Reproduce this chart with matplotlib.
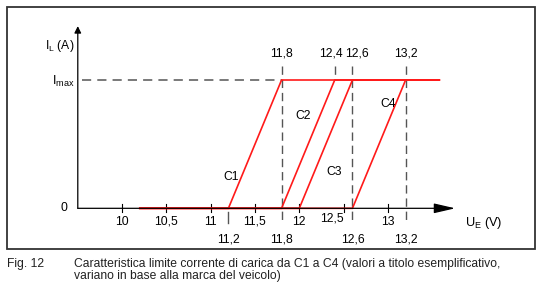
import matplotlib
matplotlib.use("Agg")
import matplotlib.pyplot as plt

plt.rcParams['font.family'] = ['Liberation Sans', 'DejaVu Sans']
plt.rcParams['mathtext.default'] = 'regular'

# data
curves = ['C1', 'C2', 'C3', 'C4']
u_start = [11.2, 11.8, 12.0, 12.6]   # current starts to rise (I = 0)
u_end = [11.8, 12.4, 12.6, 13.2]     # current reaches Imax
u_min, u_max = 10.2, 13.58
ticks = [10, 10.5, 11, 11.5, 12, 12.5, 13]
tick_labels = ['10', '10,5', '11', '11,5', '12', '12,5', '13']
top_marks = [11.8, 12.4, 12.6, 13.2]
top_label_x = [11.8, 12.36, 12.655, 13.2]
bottom_marks = [11.2, 11.8, 12.6, 13.2]
label_pos = [(11.23, 0.244), (12.04, 0.722), (12.39, 0.28), (13.0, 0.813)]

red = '#ff1a1a'
grey = '#555555'
fs = 8.7

fig = plt.figure(figsize=(5.4, 2.98), dpi=100)
ax = fig.add_axes([0, 0, 1, 1])
ax.set_xlim(8.622, 14.717)
ax.set_ylim(-0.699, 1.6235)
ax.axis('off')

# frame
fig.patches.append(plt.Rectangle((7 / 540, 1 - 249 / 298), 528 / 540, 242 / 298,
                                 transform=fig.transFigure, fill=False,
                                 edgecolor='#333333', lw=1.3))

# axes arrows
ax.annotate('', xy=(9.5, 1.42), xytext=(9.5, 0),
            arrowprops=dict(arrowstyle='-|>', color='black', lw=0.9,
                            mutation_scale=10, shrinkA=0, shrinkB=0))
ax.annotate('', xy=(13.76, 0), xytext=(9.5, 0),
            arrowprops=dict(arrowstyle='-|>,head_length=1.3,head_width=0.3', color='black', lw=0.9,
                            mutation_scale=10, shrinkA=0, shrinkB=0))

# ticks on x axis
for t, lab in zip(ticks, tick_labels):
    ax.plot([t, t], [-0.032, 0.032], color='black', lw=0.8)
    if lab == '12,5':
        ax.text(12.37, -0.078, lab, ha='center', va='center', fontsize=fs)
    else:
        ax.text(t, -0.104, lab, ha='center', va='center', fontsize=fs)

# dashed guides
ax.plot([9.55, 11.8], [1, 1], color=grey, lw=1.1, dashes=(6, 4))
for m, lx in zip(top_marks, top_label_x):
    low = 1 if m == 12.4 else -0.122
    ax.plot([m, m], [1.109, low], color=grey, lw=1.0, dashes=(6, 3.5))
    ax.text(lx, 1.203, str(m).replace('.', ','), ha='center', va='center', fontsize=fs)
ax.plot([11.2, 11.2], [-0.026, -0.118], color=grey, lw=1.0)
for m in bottom_marks:
    ax.text(m, -0.242, str(m).replace('.', ','), ha='center', va='center', fontsize=fs)

# characteristic curves
for name, a, b, (lx, ly) in zip(curves, u_start, u_end, label_pos):
    ax.plot([u_min, a, b, u_max], [0, 0, 1, 1], color=red, lw=1.2, solid_joinstyle='miter')
    ax.text(lx, ly, name, ha='center', va='center', fontsize=fs)

# axis labels
ax.text(9.46, 1.266, r'$I_L$ (A)', ha='right', va='center', fontsize=fs)
ax.text(9.46, 0.985, r'$I_{max}$', ha='right', va='center', fontsize=fs + 0.5)
ax.text(9.38, 0, '0', ha='right', va='center', fontsize=fs)
ax.text(14.08, -0.115, r'$U_E$ (V)', ha='center', va='center', fontsize=fs + 0.5)

# caption
fig.text(7 / 540, 1 - 264 / 298, 'Fig. 12', ha='left', va='center', fontsize=fs, color='#222222')
fig.text(74 / 540, 1 - 264 / 298,
         'Caratteristica limite corrente di carica da C1 a C4 (valori a titolo esemplificativo,',
         ha='left', va='center', fontsize=fs, color='#222222')
fig.text(74 / 540, 1 - 276 / 298, 'variano in base alla marca del veicolo)',
         ha='left', va='center', fontsize=fs, color='#222222')

fig.savefig('out.png', dpi=100)
